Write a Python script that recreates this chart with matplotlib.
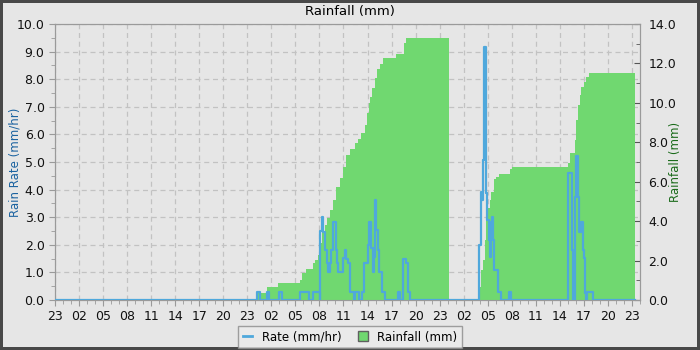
import matplotlib
matplotlib.use("Agg")
import matplotlib.pyplot as plt
from matplotlib.lines import Line2D
from matplotlib.ticker import MultipleLocator, FormatStrFormatter

# hours since 23:00 on the first day, and the hour label shown every 3 hours
tick_hours = list(range(0, 73, 3))
tick_labels = ["23", "02", "05", "08", "11", "14", "17", "20",
               "23", "02", "05", "08", "11", "14", "17", "20",
               "23", "02", "05", "08", "11", "14", "17", "20", "23"]

# rain rate (mm/hr), value holds from each time until the next one
rate_t = [0, 25.15, 25.56, 26.40, 26.72, 27.97, 28.27, 30.55, 31.71, 32.21,
          33.04, 33.13, 33.29, 33.45, 33.67, 33.88, 34.08, 34.29, 34.50, 34.70,
          35.04, 35.16, 35.32, 35.95, 36.16, 36.37, 36.58, 36.80, 37.30, 37.45,
          37.95, 38.30, 38.60, 39.00, 39.20, 39.45, 39.65, 39.78, 39.93, 40.08,
          40.25, 40.45, 40.75, 41.20, 42.75, 43.05, 43.45, 43.75, 44.00, 44.30,
          52.95, 53.15, 53.30, 53.37, 53.45, 53.52, 53.83, 53.92, 54.10, 54.30,
          54.42, 54.55, 54.65, 54.75, 55.25, 55.65, 56.70, 56.95,
          64.05, 64.55, 64.62, 64.88, 65.00, 65.27, 65.35, 65.62, 65.90, 66.02,
          66.18, 66.28, 66.35, 67.15, 72.32]
rate_v = [0, 0.3, 0, 0.3, 0, 0.3, 0, 0.3, 0, 0.3,
          0, 2.5, 3.0, 2.47, 1.8, 1.34, 1.03, 1.34, 1.8, 2.84,
          1.8, 1.34, 1.03, 1.52, 1.81, 1.5, 1.33, 0.3, 0, 0.3,
          0, 0.3, 1.33, 2.0, 2.84, 1.9, 1.03, 1.57, 3.62, 2.54,
          1.81, 1.03, 0.3, 0, 0.3, 0, 1.5, 1.33, 0.3, 0,
          2.0, 3.92, 3.62, 4.1, 5.07, 9.15, 3.87, 2.9, 2.17, 1.57,
          2.84, 3.0, 2.17, 1.09, 0.3, 0, 0.3, 0,
          4.59, 1.8, 0, 3.74, 5.2, 3.74, 2.47, 2.84, 1.8, 1.51,
          0.25, 0, 0.3, 0, 0]

# cumulative rainfall (mm)
rain_t = [0, 25.15, 26.40, 27.84, 30.55, 30.76, 31.38, 32.17, 32.42, 32.83,
          33.13, 33.38, 33.67, 33.95, 34.29, 34.63, 35.12, 35.54, 35.91, 36.37,
          36.87, 37.41, 37.78, 38.24, 38.65, 38.90, 39.15, 39.36, 39.61, 39.90,
          40.19, 40.52, 40.90, 42.61, 43.52, 43.85, 49.13, 53.0, 53.2, 53.4,
          53.62, 53.74, 54.03, 54.24, 54.45, 54.74, 55.07, 55.40, 56.82, 57.07,
          64.0, 64.21, 64.84, 65.05, 65.25, 65.46, 65.67, 65.96, 66.21, 66.62,
          72.32]
rain_v = [0, 0.34, 0.64, 0.85, 1.01, 1.35, 1.57, 1.87, 2.03, 2.28,
          2.89, 3.47, 3.80, 4.15, 4.57, 5.07, 5.75, 6.19, 6.76, 7.36,
          7.66, 7.96, 8.17, 8.47, 8.88, 9.49, 10.0, 10.31, 10.76, 11.26,
          11.72, 11.97, 12.28, 12.48, 13.04, 13.29, 0, 0.67, 1.52, 2.03,
          3.04, 4.14, 4.65, 5.07, 5.49, 6.12, 6.26, 6.39, 6.63, 6.73,
          6.94, 7.45, 8.12, 9.13, 9.89, 10.40, 10.82, 11.07, 11.29, 11.50,
          0]

bg = "#e6e6e6"
blue = "#4fa8dc"
green = "#70d870"

fig = plt.figure(figsize=(7, 3.5), dpi=100, facecolor=bg,
                 edgecolor="#484848", linewidth=4)
ax = fig.add_axes([55 / 700, 50 / 350, 585 / 700, 276 / 350])
ax.set_facecolor(bg)
ax2 = ax.twinx()
ax2.patch.set_visible(False)

# rainfall area on the right axis
ax2.fill_between(rain_t, rain_v, step="post", color=green, linewidth=0, zorder=2)
# rate line drawn over it, using the left axis scale
ax2.plot(rate_t, rate_v, drawstyle="steps-post", color=blue, lw=1.6,
         transform=ax.transData, zorder=3)

ax.set_xlim(0, 73)
ax.set_ylim(0, 10)
ax2.set_ylim(0, 14)

ax.set_xticks(tick_hours)
ax.set_xticklabels(tick_labels)
ax.xaxis.set_minor_locator(MultipleLocator(1))
ax.yaxis.set_major_locator(MultipleLocator(1))
ax.yaxis.set_minor_locator(MultipleLocator(0.5))
ax.yaxis.set_major_formatter(FormatStrFormatter("%.1f"))
ax2.yaxis.set_major_locator(MultipleLocator(2))
ax2.yaxis.set_minor_locator(MultipleLocator(1))
ax2.yaxis.set_major_formatter(FormatStrFormatter("%.1f"))

ax.grid(True, which="major", color="#c2c2c2", linestyle=(0, (4, 3)), lw=0.9)
ax.set_axisbelow(True)

for a in (ax, ax2):
    for s in a.spines.values():
        s.set_color("#9a9a9a")
ax.tick_params(which="both", labelsize=9, colors="#9a9a9a", labelcolor="#111111")
ax.tick_params(which="major", length=4)
ax.tick_params(which="minor", length=3)
ax2.tick_params(which="both", direction="in", labelsize=9, colors="#555555",
                labelcolor="#111111", pad=6)
ax2.tick_params(which="major", length=4)
ax2.tick_params(which="minor", length=3)

ax.set_ylabel("Rain Rate (mm/hr)", color="#1a62a0", fontsize=8.5)
ax2.set_ylabel("Rainfall (mm)", color="#1a6b1a", fontsize=8.5)
ax.yaxis.set_label_coords(-0.058, 0.5)
ax2.yaxis.set_label_coords(1.05, 0.5)
fig.text(0.5, 0.966, "Rainfall (mm)", ha="center", va="center", fontsize=9.5)

handles = [Line2D([0], [0], color=blue, lw=2),
           Line2D([0], [0], marker="s", linestyle="none", markersize=7,
                  markerfacecolor=green, markeredgecolor="#606060")]
leg = fig.legend(handles, ["Rate (mm/hr)", "Rainfall (mm)"], loc="center",
                 bbox_to_anchor=(0.5, 0.037), ncol=2, fontsize=8.5,
                 frameon=True, fancybox=False, handlelength=0.8,
                 columnspacing=1.4, borderpad=0.4)
leg.get_frame().set_facecolor("#ececec")
leg.get_frame().set_edgecolor("#8a8a8a")

fig.savefig("out.png", dpi=100, facecolor=bg)
